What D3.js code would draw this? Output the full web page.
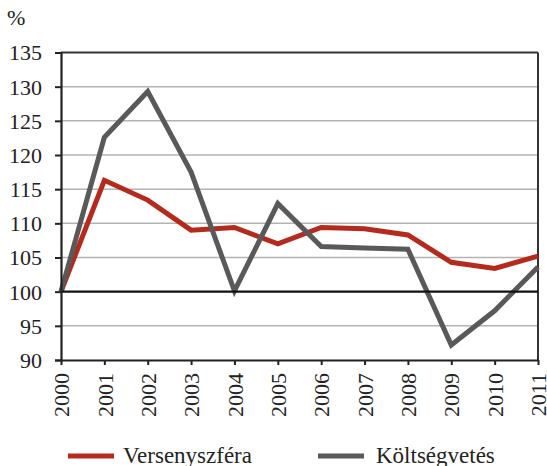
<!DOCTYPE html>
<html><head><meta charset="utf-8">
<script src="https://cdn.jsdelivr.net/npm/d3@7"></script>
<style>body{margin:0;background:#fff;} svg{display:block;}</style>
</head><body>
<svg id="c" width="547" height="466"></svg>
<script>
const years = ["2000","2001","2002","2003","2004","2005","2006","2007","2008","2009","2010","2011"];
const versenyszfera = [100,116.3,113.4,109.0,109.4,107.0,109.4,109.2,108.3,104.3,103.4,105.2];
const koltsegvetes = [100,122.6,129.3,117.5,100.1,112.9,106.6,106.4,106.2,92.2,97.2,103.6];
const yTicks = [90,95,100,105,110,115,120,125,130,135];
const seriesNames = ["Versenyszféra","Költségvetés"];
const colors = ["#b52a1c","#595959"];

const svg = d3.select("#c");
const L=61, R=538, T=52.5, B=360;
const FF = "Liberation Serif";
const FS = "22px";
const x = d3.scalePoint().domain(years).range([L,R]);
const y = d3.scaleLinear().domain([90,135]).range([B,T]);

// gridlines
svg.append("g").selectAll("line").data(yTicks.filter(v=>v!==90&&v!==135&&v!==100)).join("line")
  .attr("x1",L).attr("x2",R).attr("y1",d=>y(d)).attr("y2",d=>y(d))
  .attr("stroke","#b3b3b3").attr("stroke-width",1.5);

// top & right frame
svg.append("line").attr("x1",L).attr("x2",R).attr("y1",y(135)).attr("y2",y(135)).attr("stroke","#333").attr("stroke-width",2);
svg.append("line").attr("x1",R).attr("x2",R).attr("y1",y(135)).attr("y2",B).attr("stroke","#333").attr("stroke-width",2);

// lines
const line = d3.line().x((d,i)=>x(years[i])).y(d=>y(d));
[versenyszfera, koltsegvetes].forEach((s,k)=>{
  svg.append("path").datum(s).attr("d",line).attr("fill","none")
    .attr("stroke",colors[k]).attr("stroke-width",5).attr("stroke-linejoin","miter").attr("stroke-miterlimit",3);
});

// 100 line
svg.append("line").attr("x1",L).attr("x2",R).attr("y1",y(100)).attr("y2",y(100)).attr("stroke","#111").attr("stroke-width",2.2);

// axes
const yAxis = svg.append("g").attr("transform",`translate(${L},0)`)
  .call(d3.axisLeft(y).tickValues(yTicks).tickSize(6).tickPadding(13).tickFormat(d3.format("d")));
yAxis.select(".domain").attr("stroke","#222").attr("stroke-width",2.2);
yAxis.selectAll(".tick line").attr("stroke","#222").attr("stroke-width",2);
yAxis.selectAll("text").style("font-family",FF).style("font-size",FS).attr("fill","#222").attr("dy","0.34em");

const xAxis = svg.append("g").attr("transform",`translate(0,${B})`)
  .call(d3.axisBottom(x).tickSize(5).tickSizeOuter(0).tickPadding(4));
xAxis.select(".domain").attr("stroke","#222").attr("stroke-width",2.2);
xAxis.selectAll(".tick line").attr("stroke","#222").attr("stroke-width",2);
xAxis.selectAll("text").style("font-family",FF).style("font-size",FS).attr("fill","#222")
  .attr("transform","rotate(-90)").attr("text-anchor","end").attr("x",-13).attr("y",0).attr("dy","0.35em");

svg.append("text").text("%").attr("x",7).attr("y",25).style("font-family",FF).style("font-size",FS).attr("fill","#222");

// legend
const leg = [[68,123],[318,376]];
seriesNames.forEach((n,k)=>{
  svg.append("line").attr("x1",leg[k][0]).attr("x2",leg[k][0]+46).attr("y1",456).attr("y2",456)
    .attr("stroke",colors[k]).attr("stroke-width",5);
  svg.append("text").text(n).attr("x",leg[k][1]).attr("y",463).style("font-family",FF).style("font-size","23px").attr("fill","#222");
});
</script>
</body></html>
